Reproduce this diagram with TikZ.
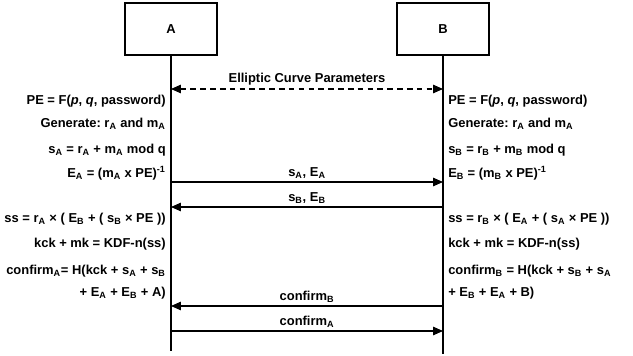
\documentclass[tikz,border=0pt]{standalone}
\usepackage{fontspec}
\setmainfont{Liberation Sans}
\usetikzlibrary{arrows.meta}
\frenchspacing

\begin{document}
\begin{tikzpicture}[
		x=0.025cm,y=-0.025cm,
		every node/.style={font=\fontsize{9.2}{11}\selectfont\bfseries},
		actor/.style={draw,line width=0.9pt,minimum width=2.3cm,minimum height=1.3cm},
		lefttext/.style={anchor=east,inner sep=0pt},
		righttext/.style={anchor=west,inner sep=0pt},
		msg/.style={line width=0.8pt,-{Triangle[length=7pt,width=6pt]}},
		msglabel/.style={above=2pt,inner sep=0pt}
		]
		\useasboundingbox (0,0) rectangle (633,356);
		\node[actor] (A) at (171,29) {A};
		\node[actor] (B) at (443,29) {B};
		\coordinate (A end) at (171,351);
		\coordinate (B end) at (443,354);
		\draw[line width=0.8pt] (A) -- (A end);
		\draw[line width=0.8pt] (B) -- (B end);
		
		\coordinate (a params) at (171,89);
		\coordinate (b params) at (443,89);
		\coordinate (a send) at (171,182);
		\coordinate (b send) at (443,182);
		\coordinate (a reply) at (171,207);
		\coordinate (b reply) at (443,207);
		\coordinate (a confB) at (171,306);
		\coordinate (b confB) at (443,306);
		\coordinate (a confA) at (171,331);
		\coordinate (b confA) at (443,331);
		
		\draw[msg,dash pattern=on 4pt off 3pt,{Triangle[length=7pt,width=6pt]}-{Triangle[length=7pt,width=6pt]}] (a params) -- node[msglabel] {Elliptic Curve Parameters} (b params);
		\draw[msg] (a send) -- node[msglabel] {s\textsubscript{A}, E\textsubscript{A}} (b send);
		\draw[msg] (b reply) -- node[msglabel] {s\textsubscript{B}, E\textsubscript{B}} (a reply);
		\draw[msg] (b confB) -- node[msglabel] {confirm\textsubscript{B}} (a confB);
		\draw[msg] (a confA) -- node[msglabel] {confirm\textsubscript{A}} (b confA);
		
		% A side
		\path (166,101) node[lefttext] (pe A) {PE = F(\textit{p}, \textit{q}, password)}
		++(0,23) node[lefttext] (gen A) {Generate: r\textsubscript{A} and m\textsubscript{A}}
		++(0,26) node[lefttext] (s A) {s\textsubscript{A} = r\textsubscript{A} + m\textsubscript{A} mod q}
		++(0,23) node[lefttext] (E A) {E\textsubscript{A} = (m\textsubscript{A} x PE)\textsuperscript{-1}}
		++(0,46) node[lefttext] (ss A) {ss = r\textsubscript{A} × ( E\textsubscript{B} + ( s\textsubscript{B} × PE ))}
		++(0,25) node[lefttext] (kck A) {kck + mk = KDF-n(ss)}
		++(0,27) node[lefttext] (conf A) {confirm\textsubscript{A}= H(kck + s\textsubscript{A} + s\textsubscript{B}}
		++(0,22) node[lefttext] (conf A2) {+ E\textsubscript{A} + E\textsubscript{B} + A)};
		
		% B side
		\path (448,101) node[righttext] (pe B) {PE = F(\textit{p}, \textit{q}, password)}
		++(0,23) node[righttext] (gen B) {Generate: r\textsubscript{A} and m\textsubscript{A}}
		++(0,26) node[righttext] (s B) {s\textsubscript{B} = r\textsubscript{B} + m\textsubscript{B} mod q}
		++(0,23) node[righttext] (E B) {E\textsubscript{B} = (m\textsubscript{B} x PE)\textsuperscript{-1}}
		++(0,46) node[righttext] (ss B) {ss = r\textsubscript{B} × ( E\textsubscript{A} + ( s\textsubscript{A} × PE ))}
		++(0,25) node[righttext] (kck B) {kck + mk = KDF-n(ss)}
		++(0,27) node[righttext] (conf B) {confirm\textsubscript{B} = H(kck + s\textsubscript{B} + s\textsubscript{A}}
		++(0,22) node[righttext] (conf B2) {+ E\textsubscript{B} + E\textsubscript{A} + B)};
	\end{tikzpicture}
\end{document}
